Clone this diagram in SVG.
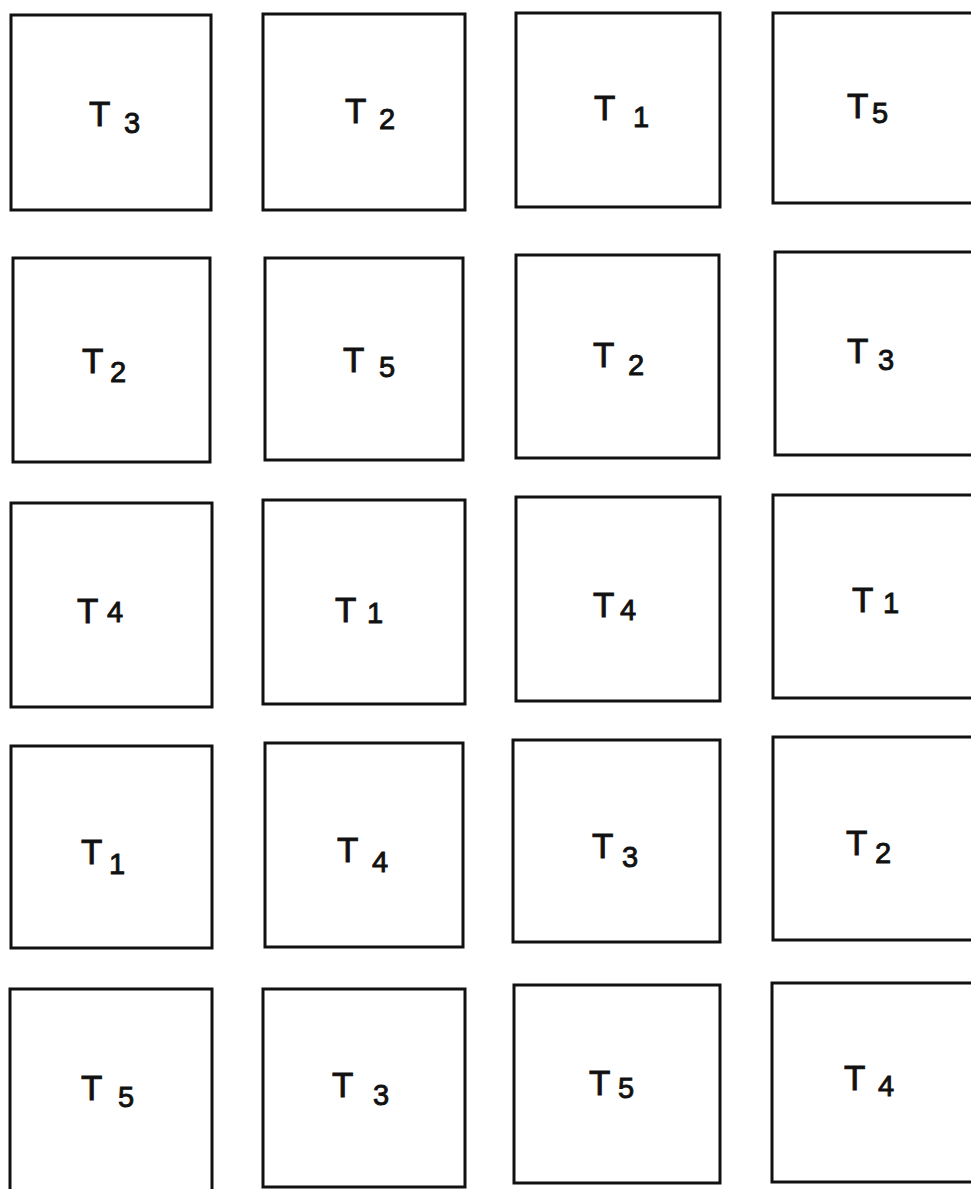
<svg xmlns="http://www.w3.org/2000/svg" width="971" height="1189" viewBox="0 0 971 1189">
<style>
.box{fill:none;stroke:#111;stroke-width:3}
.t{font-family:"Liberation Sans",Arial,sans-serif;font-size:35px;fill:#111;stroke:#111;stroke-width:0.9}
.d{font-size:29px}
</style>
<rect width="971" height="1189" fill="#fff"/>
<g id="r1c1"><rect class="box" x="11" y="15" width="200" height="195"/><text class="t" x="89" y="126">T<tspan class="d" x="124" y="133">3</tspan></text></g>
<g id="r1c2"><rect class="box" x="263" y="14" width="202" height="196"/><text class="t" x="345" y="123">T<tspan class="d" x="379" y="129">2</tspan></text></g>
<g id="r1c3"><rect class="box" x="516" y="13" width="204" height="194"/><text class="t" x="594" y="120">T<tspan class="d" x="633" y="127">1</tspan></text></g>
<g id="r1c4"><rect class="box" x="773" y="13" width="210" height="190"/><text class="t" x="847" y="118">T<tspan class="d" x="872" y="123">5</tspan></text></g>

<g id="r2c1"><rect class="box" x="13" y="258" width="197" height="204"/><text class="t" x="82" y="373">T<tspan class="d" x="110" y="382">2</tspan></text></g>
<g id="r2c2"><rect class="box" x="265" y="258" width="198" height="202"/><text class="t" x="343" y="372">T<tspan class="d" x="379" y="377">5</tspan></text></g>
<g id="r2c3"><rect class="box" x="516" y="255" width="203" height="203"/><text class="t" x="593" y="367">T<tspan class="d" x="628" y="375">2</tspan></text></g>
<g id="r2c4"><rect class="box" x="775" y="252" width="210" height="203"/><text class="t" x="847" y="363">T<tspan class="d" x="878" y="370">3</tspan></text></g>

<g id="r3c1"><rect class="box" x="11" y="503" width="201" height="204"/><text class="t" x="77" y="623">T<tspan class="d" x="107" y="622">4</tspan></text></g>
<g id="r3c2"><rect class="box" x="263" y="500" width="202" height="204"/><text class="t" x="335" y="622">T<tspan class="d" x="367" y="623">1</tspan></text></g>
<g id="r3c3"><rect class="box" x="516" y="497" width="204" height="204"/><text class="t" x="593" y="617">T<tspan class="d" x="620" y="620">4</tspan></text></g>
<g id="r3c4"><rect class="box" x="773" y="495" width="210" height="203"/><text class="t" x="852" y="612">T<tspan class="d" x="883" y="613">1</tspan></text></g>

<g id="r4c1"><rect class="box" x="11" y="746" width="201" height="202"/><text class="t" x="81" y="864">T<tspan class="d" x="109" y="874">1</tspan></text></g>
<g id="r4c2"><rect class="box" x="265" y="743" width="198" height="204"/><text class="t" x="337" y="862">T<tspan class="d" x="372" y="872">4</tspan></text></g>
<g id="r4c3"><rect class="box" x="513" y="740" width="207" height="202"/><text class="t" x="592" y="858">T<tspan class="d" x="622" y="867">3</tspan></text></g>
<g id="r4c4"><rect class="box" x="773" y="737" width="210" height="203"/><text class="t" x="846" y="855">T<tspan class="d" x="875" y="863">2</tspan></text></g>

<g id="r5c1"><rect class="box" x="10" y="989" width="202" height="210"/><text class="t" x="81" y="1100">T<tspan class="d" x="118" y="1107">5</tspan></text></g>
<g id="r5c2"><rect class="box" x="263" y="989" width="202" height="198"/><text class="t" x="332" y="1097">T<tspan class="d" x="373" y="1105">3</tspan></text></g>
<g id="r5c3"><rect class="box" x="514" y="985" width="206" height="198"/><text class="t" x="589" y="1095">T<tspan class="d" x="618" y="1098">5</tspan></text></g>
<g id="r5c4"><rect class="box" x="772" y="983" width="210" height="199"/><text class="t" x="844" y="1090">T<tspan class="d" x="878" y="1096">4</tspan></text></g>
<g id="connectors"/>
</svg>
